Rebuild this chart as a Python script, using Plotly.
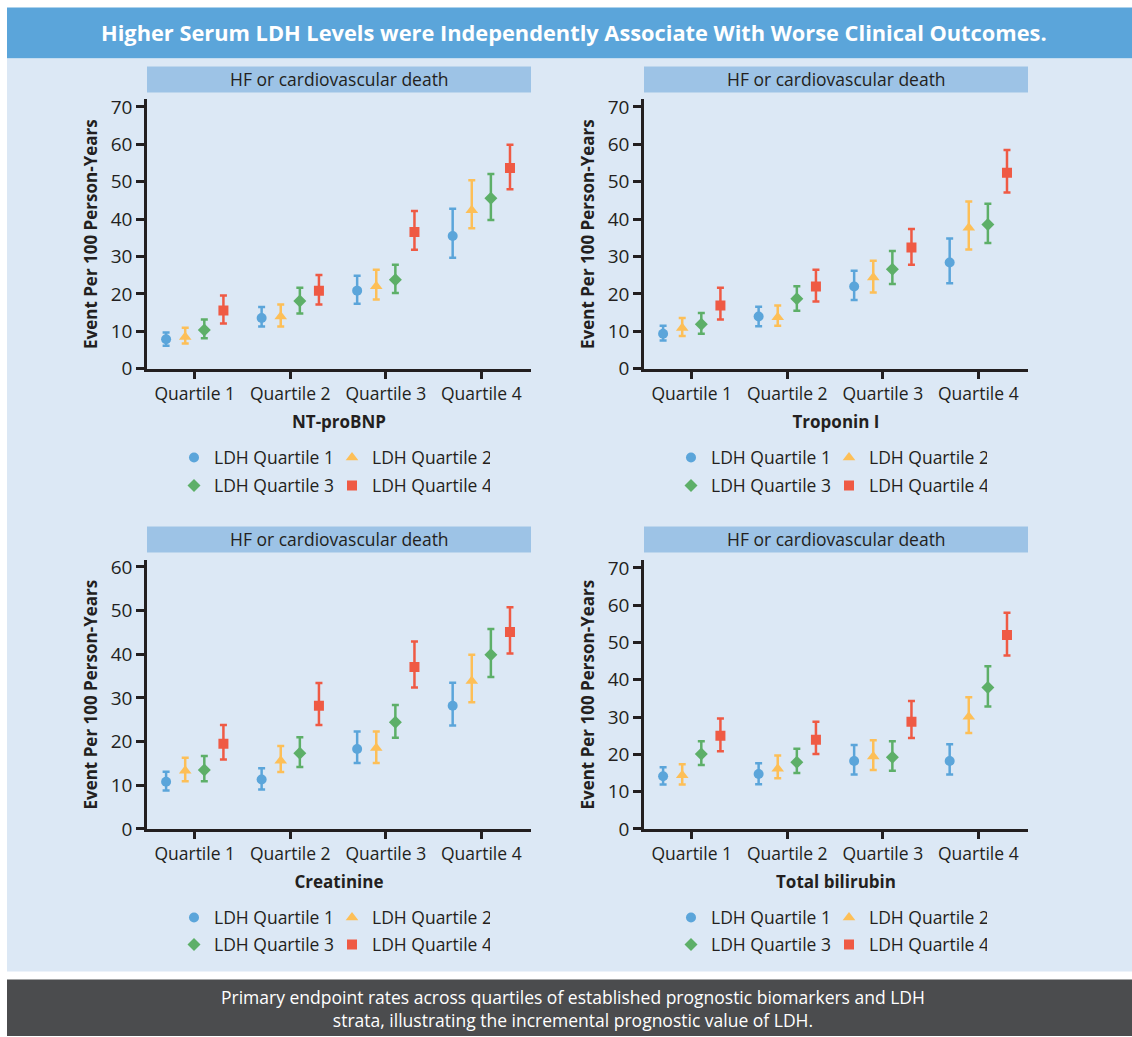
import plotly.graph_objects as go

# Target picture size 1132x1037.  The photographing step maps page rows as
# picture_y ~= 0.983 * page_y + 6.4 (columns are 1:1), so the page is laid out
# with that mapping undone.
W = 1132
Y_SCALE, Y_SHIFT = 0.983, 6.4
H = 1049

# ---------------- data ----------------
categories = ["Quartile 1", "Quartile 2", "Quartile 3", "Quartile 4"]
ldh_names = ["LDH Quartile 1", "LDH Quartile 2", "LDH Quartile 3", "LDH Quartile 4"]
panel_titles = ["NT-proBNP", "Troponin I", "Creatinine", "Total bilirubin"]
strip_title = "HF or cardiovascular death"

# rows = LDH quartile 1..4, columns = biomarker quartile 1..4
ntprobnp_rate = [[7.9, 13.6, 20.9, 35.5], [8.5, 14.0, 22.1, 42.4],
                 [10.4, 18.1, 23.8, 45.6], [15.6, 20.9, 36.6, 53.7]]
ntprobnp_lo = [[6.2, 11.3, 17.4, 29.7], [6.8, 11.3, 18.5, 37.6],
               [8.2, 14.8, 20.3, 39.8], [12.1, 17.2, 31.8, 48.0]]
ntprobnp_hi = [[9.7, 16.5, 24.9, 42.8], [11.0, 17.2, 26.5, 50.4],
               [13.2, 21.7, 27.8, 52.1], [19.6, 25.1, 42.2, 59.9]]

troponin_rate = [[9.4, 14.0, 22.0, 28.4], [10.9, 13.8, 24.4, 37.7],
                 [11.9, 18.7, 26.6, 38.6], [16.9, 22.0, 32.4, 52.4]]
troponin_lo = [[7.6, 11.4, 18.4, 22.9], [8.8, 11.5, 20.4, 31.9],
               [9.4, 15.5, 22.7, 33.6], [13.2, 18.0, 27.8, 47.1]]
troponin_hi = [[11.5, 16.6, 26.2, 34.8], [13.6, 16.9, 28.9, 44.7],
               [14.9, 22.1, 31.5, 44.1], [21.7, 26.5, 37.4, 58.5]]

creatinine_rate = [[10.8, 11.3, 18.3, 28.2], [13.3, 15.6, 18.5, 33.9],
                   [13.5, 17.3, 24.4, 39.9], [19.5, 28.2, 37.1, 45.1]]
creatinine_lo = [[8.8, 9.0, 15.1, 23.7], [10.9, 13.0, 15.1, 29.0],
                 [10.9, 14.2, 20.9, 34.8], [15.9, 23.8, 32.4, 40.2]]
creatinine_hi = [[13.1, 13.9, 22.3, 33.5], [16.3, 19.0, 22.3, 39.9],
                 [16.7, 21.0, 28.4, 45.8], [23.8, 33.4, 42.9, 50.8]]

bilirubin_rate = [[14.1, 14.7, 18.2, 18.2], [14.4, 16.1, 19.4, 30.1],
                  [20.1, 17.9, 19.2, 37.9], [25.0, 23.9, 28.7, 52.0]]
bilirubin_lo = [[11.9, 12.0, 14.6, 14.6], [11.9, 13.6, 15.8, 25.7],
                [17.1, 15.0, 15.6, 32.8], [20.8, 20.1, 24.4, 46.5]]
bilirubin_hi = [[16.5, 17.6, 22.5, 22.7], [17.3, 19.7, 23.8, 35.3],
                [23.5, 21.5, 23.5, 43.6], [29.6, 28.7, 34.3, 58.0]]

y_ticks_top = [0, 10, 20, 30, 40, 50, 60, 70]
y_ticks_creat = [0, 10, 20, 30, 40, 50, 60]

header_text = "Higher Serum LDH Levels were Independently Associate With Worse Clinical Outcomes."
footer_text = ("Primary endpoint rates across quartiles of established prognostic biomarkers and LDH<br>"
               "strata, illustrating the incremental prognostic value of LDH.")

# ---------------- style ----------------
colors = ["#5BA5DA", "#FDBF57", "#5DAF68", "#EF5A44"]
symbols = ["circle", "triangle-up", "diamond", "square"]
msizes = [10, 11, 10, 10]
offsets = [-0.3, -0.1, 0.1, 0.3]
FONT = "Open Sans"
DARK = "#231F20"


def px_x(p):
    """picture pixel x -> paper fraction"""
    return p / W


def px_y(p):
    """picture pixel y -> paper fraction"""
    page_y = (p - Y_SHIFT) / Y_SCALE
    return 1 - page_y / H


panels = [
    dict(rate=ntprobnp_rate, lo=ntprobnp_lo, hi=ntprobnp_hi, x0=147, x1=531, y0=99, y1=369,
         ymax=72, ticks=y_ticks_top, strip=(66, 92), leg=(458, 486)),
    dict(rate=troponin_rate, lo=troponin_lo, hi=troponin_hi, x0=644, x1=1028, y0=99, y1=369,
         ymax=72, ticks=y_ticks_top, strip=(66, 92), leg=(458, 486)),
    dict(rate=creatinine_rate, lo=creatinine_lo, hi=creatinine_hi, x0=147, x1=531, y0=561, y1=830,
         ymax=61.5, ticks=y_ticks_creat, strip=(527, 553), leg=(919, 946)),
    dict(rate=bilirubin_rate, lo=bilirubin_lo, hi=bilirubin_hi, x0=644, x1=1028, y0=561, y1=830,
         ymax=72, ticks=y_ticks_top, strip=(527, 553), leg=(919, 946)),
]

fig = go.Figure()
shapes = []
annotations = []

# background blocks
shapes.append(dict(type="rect", xref="paper", yref="paper", x0=px_x(7), x1=1, y0=px_y(58), y1=px_y(7),
                   fillcolor="#5BA5DA", line_width=0, layer="below"))
shapes.append(dict(type="rect", xref="paper", yref="paper", x0=px_x(7), x1=1, y0=px_y(973), y1=px_y(58),
                   fillcolor="#DCE8F5", line_width=0, layer="below"))
shapes.append(dict(type="rect", xref="paper", yref="paper", x0=px_x(7), x1=1, y0=0, y1=px_y(981),
                   fillcolor="#4B4C4E", line_width=0, layer="below"))
annotations.append(dict(text="<b>" + header_text + "</b>", xref="paper", yref="paper",
                        x=px_x(574), y=px_y(32), showarrow=False, xanchor="center", yanchor="middle",
                        font=dict(family=FONT, size=21.8, color="white")))
annotations.append(dict(text=footer_text, xref="paper", yref="paper",
                        x=px_x(573), y=px_y(1010), showarrow=False, xanchor="center", yanchor="middle",
                        align="center", font=dict(family=FONT, size=17.5, color="white")))

layout_axes = {}
for k, p in enumerate(panels):
    ax = "" if k == 0 else str(k + 1)
    xa, ya = "x" + ax, "y" + ax
    for j in range(4):
        legend_id = "legend" + ("" if (2 * k + j // 2) == 0 else str(2 * k + j // 2 + 1))
        xs = [i + 1 + offsets[j] for i in range(4)]
        ys = p["rate"][j]
        plus = [h - v for h, v in zip(p["hi"][j], ys)]
        minus = [v - l for v, l in zip(ys, p["lo"][j])]
        fig.add_trace(go.Scatter(
            x=xs, y=ys, mode="markers", name=ldh_names[j], xaxis=xa, yaxis=ya,
            legend=legend_id,
            marker=dict(symbol=symbols[j], size=msizes[j], color=colors[j]),
            error_y=dict(type="data", array=plus, arrayminus=minus, color=colors[j],
                         thickness=2.5, width=3.5),
        ))
    layout_axes["xaxis" + ax] = dict(
        domain=[px_x(p["x0"]), px_x(p["x1"])], anchor=ya, range=[0.5, 4.52],
        tickvals=[1, 2, 3, 4], ticktext=categories, showgrid=False, zeroline=False,
        showline=True, linecolor=DARK, linewidth=2.5, ticks="outside", ticklen=7,
        tickwidth=2.5, tickcolor=DARK, tickfont=dict(family=FONT, size=17.5, color=DARK),
        title=dict(text="<b>" + panel_titles[k] + "</b>", standoff=13,
                   font=dict(family=FONT, size=17, color=DARK)),
        fixedrange=True,
    )
    layout_axes["yaxis" + ax] = dict(
        domain=[px_y(p["y1"]), px_y(p["y0"])], anchor=xa, range=[0, p["ymax"]],
        tickvals=p["ticks"], showgrid=False, zeroline=False,
        showline=True, linecolor=DARK, linewidth=2.5, ticks="outside", ticklen=8,
        tickwidth=2.5, tickcolor=DARK, tickfont=dict(family=FONT, size=19, color=DARK),
        title=dict(text="<b>Event Per 100 Person-Years</b>", standoff=9,
                   font=dict(family=FONT, size=17, color=DARK)),
        fixedrange=True,
    )
    # strip
    s0, s1 = p["strip"]
    shapes.append(dict(type="rect", xref="paper", yref="paper", x0=px_x(p["x0"]), x1=px_x(p["x1"]),
                       y0=px_y(s1), y1=px_y(s0), fillcolor="#9DC3E6", line_width=0))
    annotations.append(dict(text=strip_title, xref="paper", yref="paper",
                            x=px_x((p["x0"] + p["x1"]) / 2), y=px_y((s0 + s1) / 2), showarrow=False,
                            xanchor="center", yanchor="middle",
                            font=dict(family=FONT, size=17.5, color=DARK)))
    # legends
    for r in range(2):
        lid = "legend" + ("" if (2 * k + r) == 0 else str(2 * k + r + 1))
        layout_axes[lid] = dict(
            orientation="h", x=px_x(p["x0"] + 27), xanchor="left",
            y=px_y(p["leg"][r]), yanchor="middle", bgcolor="rgba(0,0,0,0)",
            font=dict(family=FONT, size=17.5, color=DARK), entrywidth=113,
            itemclick=False, itemdoubleclick=False,
        )

fig.update_layout(
    width=W, height=H, margin=dict(l=0, r=0, t=0, b=0),
    paper_bgcolor="white", plot_bgcolor="#EBF2FA",
    shapes=shapes, annotations=annotations, showlegend=True,
    font=dict(family=FONT, color=DARK),
    **layout_axes,
)

fig.write_html(
    "out.html",
    config={"displayModeBar": False},
    post_script=(
        "var hs=document.documentElement.style;hs.margin='0';hs.padding='0';hs.overflow='hidden';"
        "var bs=document.body.style;bs.margin='0';bs.padding='0';bs.overflow='hidden';"
    ),
)
